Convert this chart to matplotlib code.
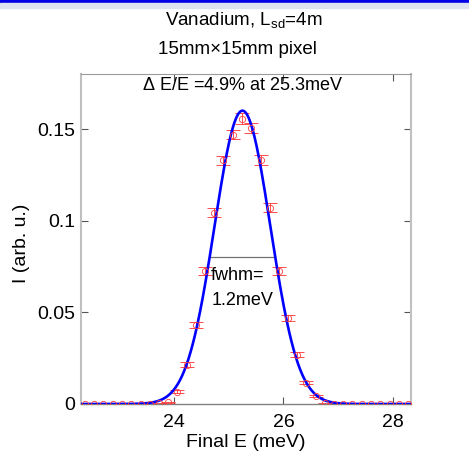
import matplotlib
matplotlib.use("Agg")
import matplotlib.pyplot as plt
import numpy as np
from matplotlib.patches import Rectangle

plt.rcParams['font.family'] = ['Liberation Sans', 'DejaVu Sans']
plt.rcParams['mathtext.fontset'] = 'custom'
plt.rcParams['mathtext.rm'] = 'Liberation Sans'
plt.rcParams['mathtext.it'] = 'Liberation Sans'

# measured points (final energy in meV, intensity, error)
energy = [22.38, 22.54, 22.71, 22.88, 23.05, 23.22, 23.39, 23.56, 23.72, 23.89,
          24.06, 24.23, 24.40, 24.57, 24.73, 24.90, 25.07, 25.24, 25.41, 25.58,
          25.75, 25.91, 26.08, 26.25, 26.42, 26.59, 26.76, 26.93, 27.09, 27.26,
          27.43, 27.60, 27.77, 27.94, 28.11, 28.27]
intensity = [0, 0, 0, 0, 0, 0, 0, 0, 0.0003, 0.0009,
             0.0068, 0.0214, 0.0430, 0.0724, 0.1043, 0.1329, 0.1470, 0.1557, 0.1506, 0.1330,
             0.1070, 0.0727, 0.0467, 0.0269, 0.0117, 0.0042, 0.0005, 0, 0, 0,
             0, 0, 0, 0, 0, 0]
error = [0, 0, 0, 0, 0, 0, 0, 0, 0.0003, 0.0004,
         0.0008, 0.0013, 0.0017, 0.0021, 0.0024, 0.0026, 0.0027, 0.0028, 0.0027, 0.0026,
         0.0024, 0.0021, 0.0016, 0.0013, 0.0009, 0.0006, 0.0003, 0, 0, 0,
         0, 0, 0, 0, 0, 0]

# gaussian fit parameters
fit_amp = 0.160
fit_center = 25.25
fit_fwhm = 1.2

energy = np.array(energy)
intensity = np.array(intensity)
error = np.array(error)

fig = plt.figure(figsize=(4.69, 4.53), dpi=100)

# slide header stripes
fig.patches.append(Rectangle((0, 450/453), 1, 3/453, transform=fig.transFigure,
                             color='#0000e6', zorder=0))
fig.patches.append(Rectangle((0, 445/453), 1, 5/453, transform=fig.transFigure,
                             color='#dde2f1', zorder=0))

ax = fig.add_axes([81/469, 49/453, 330/469, 330/453])

sigma = fit_fwhm / (2 * np.sqrt(2 * np.log(2)))
xf = np.linspace(22.3, 28.33, 600)
yf = fit_amp * np.exp(-(xf - fit_center)**2 / (2 * sigma**2))

has_err = error > 0
ax.errorbar(energy[has_err], intensity[has_err], yerr=error[has_err], fmt='none',
            ecolor='#ff3030', elinewidth=0.6, capsize=5, capthick=0.6, zorder=2)
ax.plot(xf, yf, color='#0000ff', lw=1.9, zorder=3)
ax.plot(energy, intensity, 'o', mfc='none', mec='#ff4040', ms=4.5, mew=0.6, zorder=4)

ax.plot([fit_center - fit_fwhm/2, fit_center + fit_fwhm/2], [fit_amp/2, fit_amp/2],
        color='#707070', lw=0.9, zorder=1)

ax.text(24.67, 0.0700, 'fwhm=', fontsize=13, ha='left', va='center')
ax.text(24.69, 0.0562, '1.2meV', fontsize=13, ha='left', va='center')
ax.text(23.41, 0.1736, r'$\Delta$ E/E =4.9% at 25.3meV', fontsize=13, ha='left', va='center')

ax.set_xlim(22.3, 28.33)
ax.set_ylim(0, 0.18)
ax.set_xticks([24, 26, 28])
ax.set_yticks([0, 0.05, 0.1, 0.15])
ax.set_yticklabels(['0', '0.05', '0.1', '0.15'])
ax.tick_params(direction='in', length=5, width=0.8, color='#555555', labelsize=14,
               top=True, right=True, pad=4)
ax.tick_params(axis='x', pad=7)

ax.spines['left'].set_color('#c0c0c0')
ax.spines['left'].set_linewidth(1.5)
ax.spines['right'].set_color('#c0c0c0')
ax.spines['right'].set_linewidth(1.5)
ax.spines['bottom'].set_color('#808080')
ax.spines['bottom'].set_linewidth(1.0)
ax.spines['top'].set_color('#9a9a9a')
ax.spines['top'].set_linewidth(0.8)

ax.set_xlabel('Final E (meV)', fontsize=14)
ax.set_ylabel('I (arb. u.)', fontsize=14)
ax.xaxis.set_label_coords((245.8 - 81)/330, -(442.7 - 404)/330)
ax.yaxis.set_label_coords(-(81 - 21.7)/330, (404 - 243)/330)
ax.xaxis.label.set_va('center')
ax.yaxis.label.set_va('center')

fig.text(243.5/469, 1 - 20/453, r'Vanadium, L$_{\rm sd}$=4m', fontsize=13.5,
         ha='center', va='center')
fig.text(237.5/469, 1 - 49/453, '15mm\u00d715mm pixel', fontsize=13.5,
         ha='center', va='center')

fig.savefig('out.png', dpi=100)
